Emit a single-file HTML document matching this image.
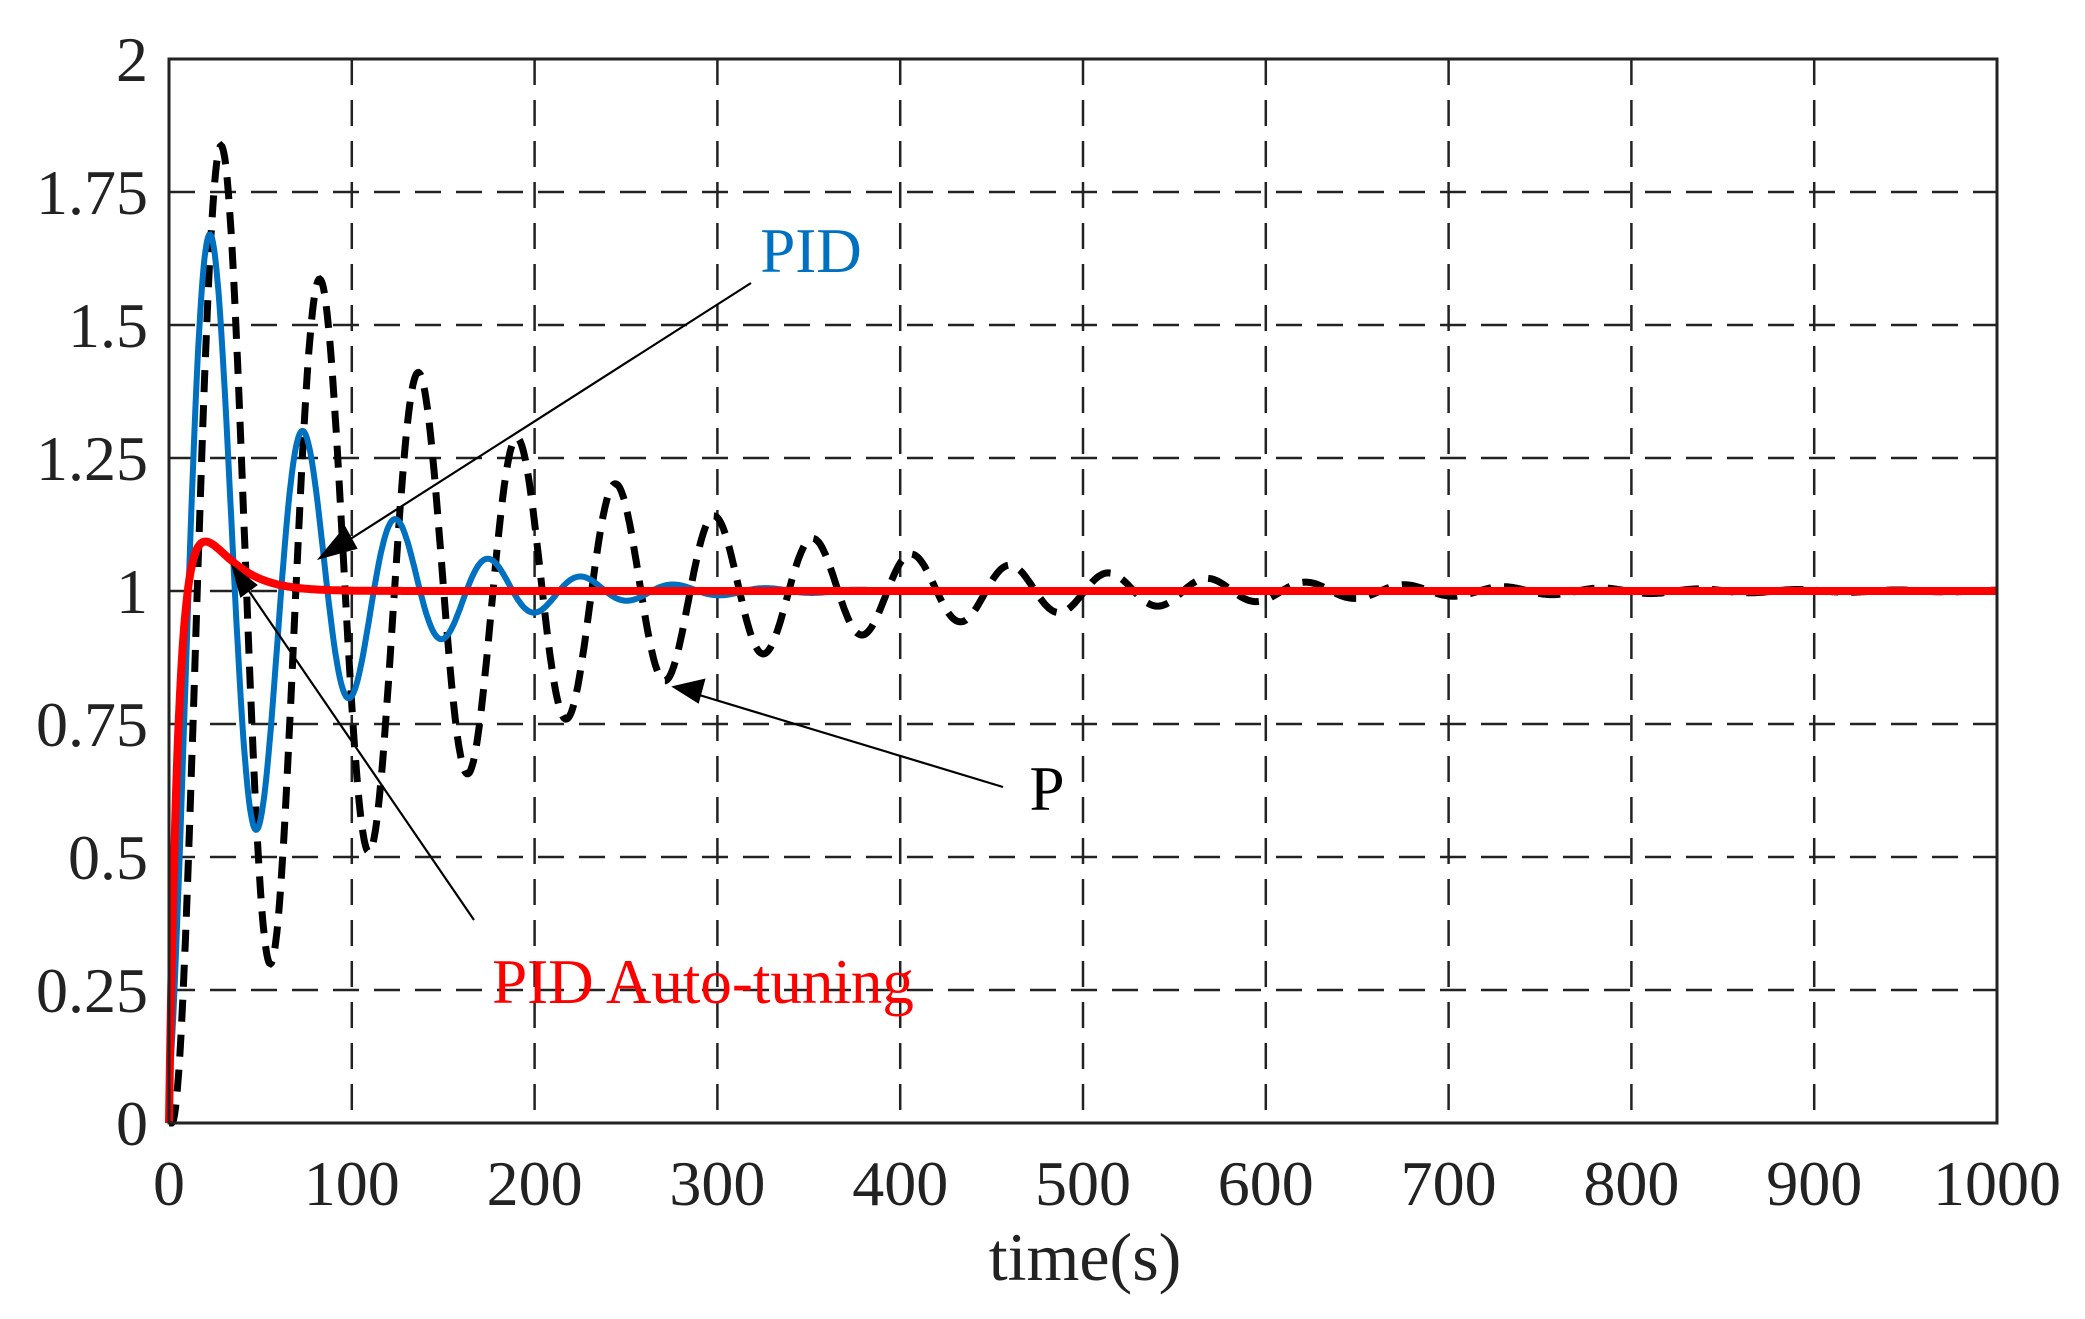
<!DOCTYPE html>
<html><head><meta charset="utf-8"><style>
html,body{margin:0;padding:0;background:#fff;}
svg{display:block;}
text{font-family:"Liberation Serif",serif;fill:#222;}
</style></head><body>
<svg id="s" width="2085" height="1319" viewBox="0 0 2085 1319" xmlns="http://www.w3.org/2000/svg">
<g id="grid" stroke="#222" stroke-width="2.5" stroke-dasharray="26,15" fill="none"></g>
<g id="curves" fill="none"></g>
<rect x="169" y="59" width="1828" height="1064" fill="none" stroke="#222" stroke-width="3"/>
<g id="labels" font-size="64"></g>
<text x="1085" y="1280" font-size="68" text-anchor="middle">time(s)</text>
<g stroke="#000" stroke-width="2.2" fill="#000">
<line x1="751" y1="283" x2="330" y2="552"/>
<polygon points="320,558 345,528 356,548"/>
<line x1="1003" y1="787" x2="686" y2="691"/>
<polygon points="674,687 704,680 698,702"/>
<line x1="474" y1="920" x2="238" y2="575"/>
<polygon points="233,567 256,585 241,596"/>
</g>
<text x="811" y="272" font-size="63" text-anchor="middle" style="fill:#0070C0">PID</text>
<text x="1047" y="810" font-size="63" text-anchor="middle" style="fill:#000">P</text>
<text x="703" y="1003" font-size="63" text-anchor="middle" style="fill:#ff0000">PID Auto-tuning</text>
</svg>
<script>
var X0=169,X1=1997,Y0=1123,YT=59;
function px(t){return X0+(X1-X0)*t/1000;}
function py(v){return Y0-(Y0-YT)*v/2;}
var g=document.getElementById('grid'),L=document.getElementById('labels'),NS='http://www.w3.org/2000/svg';
function el(p,tag,a,txt){var e=document.createElementNS(NS,tag);for(var k in a)e.setAttribute(k,a[k]);if(txt!==undefined)e.textContent=txt;p.appendChild(e);return e;}
for(var i=1;i<10;i++){var x=px(i*100);el(g,'line',{x1:x,y1:YT,x2:x,y2:Y0});}
for(var j=1;j<8;j++){var y=py(j*0.25);el(g,'line',{x1:X0,y1:y,x2:X1,y2:y});}
for(var i=0;i<=10;i++){el(L,'text',{x:px(i*100),y:1205,'text-anchor':'middle'},String(i*100));}
var yl=['0','0.25','0.5','0.75','1','1.25','1.5','1.75','2'];
for(var j=0;j<=8;j++){el(L,'text',{x:148,y:py(j*0.25)+22,'text-anchor':'end'},yl[j]);}
function path(f,step){var d='';for(var t=0;t<=1000;t+=step){d+=(t?'L':'M')+px(t).toFixed(1)+','+py(f(t)).toFixed(1);}return d;}
function so(a,w,d){return function(t){t=t-d;if(t<0)return 0;return 1-Math.exp(-a*t)*(Math.cos(w*t)+(a/w)*Math.sin(w*t));};}
var c=document.getElementById('curves');
el(c,'path',{d:path(so(0.0066,0.1165,1.5),0.5),stroke:'#000','stroke-width':7,'stroke-dasharray':'22,13'});
el(c,'path',{d:path(so(0.0158,0.124,-3),0.5),stroke:'#0070C0','stroke-width':6});
el(c,'path',{d:path(function(t){return 1-Math.exp(-t/5)+0.13*(t/12)*Math.exp(1-t/12);},0.5),stroke:'#ff0000','stroke-width':8});
</script>
</body></html>
